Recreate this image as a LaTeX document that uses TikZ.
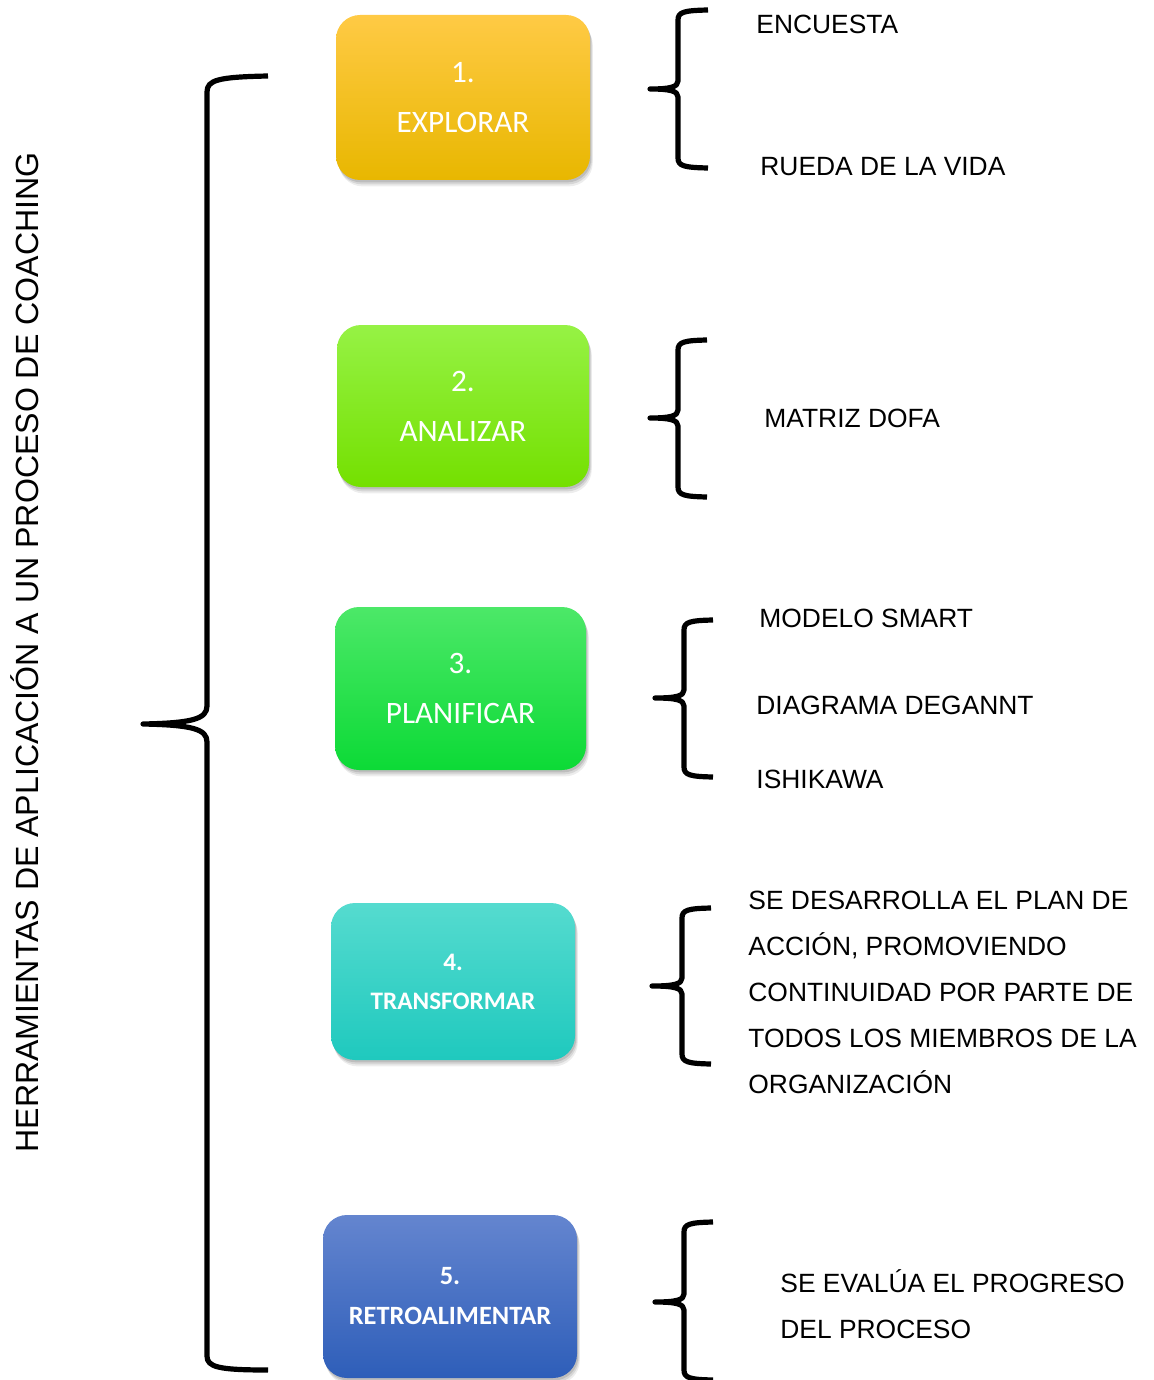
\documentclass[tikz,border=0pt]{standalone}
\usepackage{fontspec}
\setmainfont{Liberation Sans}
\newfontfamily\carl{Carlito}
\usetikzlibrary{shadows}
\definecolor{yA}{HTML}{FFCA45}\definecolor{yB}{HTML}{FFC20A}\definecolor{yC}{HTML}{E8B700}
\definecolor{gA}{HTML}{96F245}\definecolor{gB}{HTML}{8AF80A}\definecolor{gC}{HTML}{74E000}
\definecolor{hA}{HTML}{4CE868}\definecolor{hB}{HTML}{22EA48}\definecolor{hC}{HTML}{0CDA36}
\definecolor{tA}{HTML}{55DBCF}\definecolor{tB}{HTML}{2EDCCD}\definecolor{tC}{HTML}{1FC9BE}
\definecolor{bA}{HTML}{6485CF}\definecolor{bB}{HTML}{4474CC}\definecolor{bC}{HTML}{2E5EB9}
\newcommand\rbr[6]{% xe xv xt yt ym yb
  \draw[bracestroke] (#1,#4) .. controls ({#2+6},{#4+0.5}) and (#2,{#4+2}) .. (#2,{#4+10})
    -- (#2,{#5-8}) .. controls (#2,{#5-2}) and ({#2-8},{#5}) .. (#3,#5)
    .. controls ({#2-8},{#5}) and (#2,{#5+2}) .. (#2,{#5+8})
    -- (#2,{#6-10}) .. controls (#2,{#6-2}) and ({#2+6},{#6-0.5}) .. (#1,#6);}
\tikzset{
  bracestroke/.style={line width=2.6pt, line join=round, line cap=butt},
  stage/.style={rectangle, rounded corners=12pt, draw=none, text=white, align=center,
    drop shadow={shadow xshift=0.6pt, shadow yshift=-1.2pt, opacity=0.18, fill=black!70},
    drop shadow={shadow xshift=1.0pt, shadow yshift=-2.2pt, opacity=0.14, fill=black!70},
    drop shadow={shadow xshift=1.4pt, shadow yshift=-3.2pt, opacity=0.10, fill=black!70}},
  stagefont/.style={font=\carl\fontsize{15.6}{25}\selectfont},
  stagefontb/.style={font=\carl\bfseries\fontsize{12.6}{19.5}\selectfont},
  item/.style={anchor=base west, inner sep=0pt, font=\fontsize{13.2}{15}\selectfont},
}
\begin{document}
\begin{tikzpicture}[x=0.5pt,y=-0.5pt]
\useasboundingbox (0,0) rectangle (1154,1380);
% title
\node[rotate=90, anchor=base, inner sep=0pt, font=\fontsize{16.05}{18}\selectfont] (title) at (39,652.5)
  {HERRAMIENTAS DE APLICACIÓN A UN PROCESO DE COACHING};
% big brace
\draw[bracestroke] (268,76) .. controls (218,77) and (207,80) .. (207,92)
  -- (207,706) .. controls (207,719) and (192,723) .. (143,724)
  .. controls (192,725) and (207,729) .. (207,742)
  -- (207,1356) .. controls (207,1367) and (218,1370) .. (268,1370);
% stages
\node[stage, stagefont, minimum width=127pt, minimum height=82.5pt,
  top color=yA, middle color=yB, bottom color=yC] (s1) at (463,97.5) {1.\\EXPLORAR};
\node[stage, stagefont, minimum width=126pt, minimum height=81pt,
  top color=gA, middle color=gB, bottom color=gC] (s2) at (463,406) {2.\\ANALIZAR};
\node[stage, stagefont, minimum width=125.5pt, minimum height=81.5pt,
  top color=hA, middle color=hB, bottom color=hC] (s3) at (460.5,688.5) {3.\\PLANIFICAR};
\node[stage, stagefontb, minimum width=122pt, minimum height=78.5pt,
  top color=tA, middle color=tB, bottom color=tC] (s4) at (453,981.5) {4.\\TRANSFORMAR};
\node[stage, stagefontb, font=\carl\bfseries\fontsize{13.2}{20}\selectfont, minimum width=127pt, minimum height=81.5pt,
  top color=bA, middle color=bB, bottom color=bC] (s5) at (450,1296.5) {5.\\RETROALIMENTAR};
% small braces
\rbr{708}{678}{650}{10}{89}{168}
\rbr{707}{678}{650}{340}{418}{497}
\rbr{713}{684}{655}{620}{698}{777}
\rbr{711}{682}{652}{908}{986}{1064}
\rbr{713}{684}{655}{1222}{1302}{1380}
% items
\node[item] (i1) at (756,34) {ENCUESTA};
\node[item] (i2) at (760,176) {RUEDA DE LA VIDA};
\node[item] (i3) at (764,427) {MATRIZ DOFA};
\node[item] (i4) at (759,627) {MODELO SMART};
\node[item] (i5) at (756,714) {DIAGRAMA DEGANNT};
\node[item] (i6) at (756,788) {ISHIKAWA};
\node[item] (p1) at (748,909) {SE DESARROLLA EL PLAN DE};
\node[item] (p2) at (748,955) {ACCIÓN, PROMOVIENDO};
\node[item] (p3) at (748,1001) {CONTINUIDAD POR PARTE DE};
\node[item] (p4) at (748,1047) {TODOS LOS MIEMBROS DE LA};
\node[item] (p5) at (748,1093) {ORGANIZACIÓN};
\node[item] (q1) at (780,1292) {SE EVALÚA EL PROGRESO};
\node[item] (q2) at (780,1338) {DEL PROCESO};
\end{tikzpicture}
\end{document}
